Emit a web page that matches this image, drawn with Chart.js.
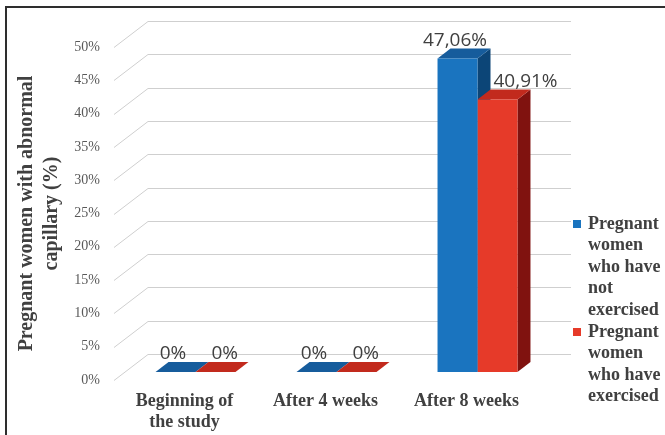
<!DOCTYPE html>
<html>
<head>
<meta charset="utf-8">
<script src="https://cdn.jsdelivr.net/npm/chart.js@4.4.1/dist/chart.umd.min.js"></script>
<style>
  html, body { margin: 0; padding: 0; background: #fff; }
  #wrap { width: 665px; height: 435px; }
</style>
</head>
<body>
<div id="wrap"><canvas id="chart" width="665" height="435"></canvas></div>
<script>
// --- data ---
const categories = [['Beginning of', 'the study'], 'After 4 weeks', 'After 8 weeks'];
const notExercised = [0, 0, 47.06];
const exercised = [0, 0, 40.91];
const seriesNames = ['Pregnant women who have not exercised', 'Pregnant women who have exercised'];
const yTitle = ['Pregnant women with abnormal', 'capillary (%)'];

// fake 3D geometry (excel style column chart)
const BAR_SHIFT = { x: 11, y: -8 };   // bars sit a bit behind the label plane
const BAR_DEPTH = { x: 13, y: -10 };
const WALL = { x: 34, y: -26 };       // back wall offset

const faces = [
    { front: '#1a74bf', top: '#165c9c', side: '#0c4577' },
    { front: '#e63a29', top: '#c22a1d', side: '#80120f' }
];
const textColor = '#404040';

function fmtPct(v) {
    return v === 0 ? '0%' : v.toFixed(2).replace('.', ',') + '%';
}

function wrapWords(ctx, text, maxW) {
    const words = text.split(' ');
    const lines = [];
    let cur = '';
    words.forEach(w => {
        const test = cur ? cur + ' ' + w : w;
        if (cur && ctx.measureText(test).width > maxW) {
            lines.push(cur);
            cur = w;
        } else {
            cur = test;
        }
    });
    if (cur) lines.push(cur);
    return lines;
}

const pseudo3d = {
    id: 'pseudo3d',
    beforeDatasetsDraw(chart) {
        const { ctx, chartArea, scales: { y } } = chart;

        // back wall gridlines with the diagonal going back from the axis
        ctx.save();
        ctx.strokeStyle = '#cfcfcf';
        ctx.lineWidth = 1;
        y.ticks.forEach(t => {
            const py = Math.round(y.getPixelForValue(t.value)) + 0.5;
            ctx.beginPath();
            ctx.moveTo(chartArea.left, py);
            ctx.lineTo(chartArea.left + WALL.x, py + WALL.y);
            ctx.lineTo(chartArea.right + WALL.x, py + WALL.y);
            ctx.stroke();
        });
        ctx.restore();

        // sides + tops of the columns
        ctx.save();
        ctx.translate(BAR_SHIFT.x, BAR_SHIFT.y);
        chart.data.datasets.forEach((ds, i) => {
            chart.getDatasetMeta(i).data.forEach(bar => {
                const p = bar.getProps(['x', 'y', 'base', 'width'], true);
                const l = p.x - p.width / 2, r = p.x + p.width / 2;
                const dx = BAR_DEPTH.x, dy = BAR_DEPTH.y;
                if (p.base - p.y > 0.5) {
                    ctx.fillStyle = faces[i].side;
                    ctx.beginPath();
                    ctx.moveTo(r, p.y);
                    ctx.lineTo(r + dx, p.y + dy);
                    ctx.lineTo(r + dx, p.base + dy);
                    ctx.lineTo(r, p.base);
                    ctx.closePath();
                    ctx.fill();
                }
                ctx.fillStyle = faces[i].top;
                ctx.beginPath();
                ctx.moveTo(l, p.y);
                ctx.lineTo(l + dx, p.y + dy);
                ctx.lineTo(r + dx, p.y + dy);
                ctx.lineTo(r, p.y);
                ctx.closePath();
                ctx.fill();
            });
        });
        ctx.restore();

        // the library draws the front faces with this shift applied
        ctx.save();
        ctx.translate(BAR_SHIFT.x, BAR_SHIFT.y);
    },
    afterDatasetsDraw(chart) {
        const { ctx } = chart;
        ctx.restore();

        // value labels: first series centred over the column, second one
        // starts a little right of its column's left edge (as excel put them)
        ctx.save();
        ctx.font = '19px "Open Sans"';
        ctx.fillStyle = textColor;
        ctx.textBaseline = 'middle';
        chart.data.datasets.forEach((ds, i) => {
            chart.getDatasetMeta(i).data.forEach((bar, j) => {
                const p = bar.getProps(['x', 'y', 'width'], true);
                const ly = p.y + BAR_SHIFT.y + BAR_DEPTH.y - 8;
                let lx;
                if (i === 0) {
                    ctx.textAlign = 'center';
                    lx = p.x + BAR_SHIFT.x + BAR_DEPTH.x / 2 - 9;
                } else {
                    ctx.textAlign = 'left';
                    lx = p.x - p.width / 2 + BAR_SHIFT.x + 16;
                }
                ctx.fillText(fmtPct(ds.data[j]), lx, ly);
            });
        });
        ctx.restore();
    },
    afterDraw(chart) {
        const { ctx, chartArea } = chart;

        // legend on the right, words wrapped like the original
        ctx.save();
        ctx.font = 'bold 18px "Liberation Serif"';
        ctx.textBaseline = 'middle';
        const boxX = chartArea.right + 36;
        const textX = boxX + 15;
        const lineH = 21.6;
        let yy = 224;
        chart.data.datasets.forEach((ds, i) => {
            ctx.fillStyle = faces[i].front;
            ctx.fillRect(boxX, yy - 4, 8, 8);
            ctx.fillStyle = textColor;
            wrapWords(ctx, ds.label, 80).forEach(line => {
                ctx.fillText(line, textX, yy);
                yy += lineH;
            });
        });
        ctx.restore();

        // frame (only top and left edges survive in the figure)
        ctx.save();
        ctx.strokeStyle = '#2e2e2e';
        ctx.lineWidth = 2;
        ctx.beginPath();
        ctx.moveTo(6, 435);
        ctx.lineTo(6, 7);
        ctx.lineTo(665, 7);
        ctx.stroke();
        ctx.restore();
    }
};

new Chart(document.getElementById('chart'), {
    type: 'bar',
    data: {
        labels: categories,
        datasets: [
            { label: seriesNames[0], data: notExercised, backgroundColor: faces[0].front },
            { label: seriesNames[1], data: exercised, backgroundColor: faces[1].front }
        ]
    },
    options: {
        responsive: false,
        animation: false,
        layout: { padding: { left: 0, right: 128, top: 47, bottom: 0 } },
        datasets: { bar: { categoryPercentage: 0.567, barPercentage: 1 } },
        scales: {
            x: {
                grid: { display: false, drawTicks: false },
                border: { display: false },
                ticks: {
                    color: textColor,
                    padding: 11,
                    maxRotation: 0,
                    font: { family: '"Liberation Serif"', size: 18, weight: 'bold', lineHeight: 1.15 }
                },
                afterFit: s => { s.height = 55; }
            },
            y: {
                min: 0,
                max: 50,
                grid: { display: false, drawTicks: false },
                border: { display: false },
                ticks: {
                    stepSize: 5,
                    padding: 14,
                    color: '#595959',
                    font: { family: '"Liberation Serif"', size: 14 },
                    callback: v => v + '%'
                },
                title: {
                    display: true,
                    text: yTitle,
                    color: textColor,
                    padding: { top: 14.5, bottom: 0 },
                    font: { family: '"Liberation Serif"', size: 20, weight: 'bold', lineHeight: 1.25 }
                },
                afterFit: s => { s.width = 114; }
            }
        },
        plugins: {
            legend: { display: false },
            tooltip: { enabled: false }
        }
    },
    plugins: [pseudo3d]
});
</script>
</body>
</html>
